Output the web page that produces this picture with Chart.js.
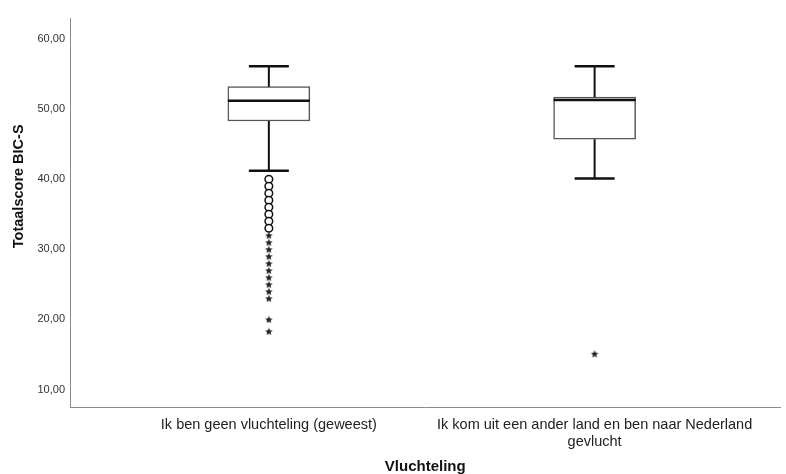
<!DOCTYPE html>
<html>
<head>
<meta charset="utf-8">
<script src="https://cdn.jsdelivr.net/npm/chart.js@4"></script>
<style>
  html, body { margin: 0; padding: 0; background: #fff; }
  #wrap { width: 786px; height: 474px; }
</style>
</head>
<body>
<div id="wrap"><canvas id="boxChart" width="786" height="474"></canvas></div>
<script>
// groups on the x axis
const groups = [
    'Ik ben geen vluchteling (geweest)',
    ['Ik kom uit een ander land en ben naar Nederland', 'gevlucht']
];
// box statistics per group
const whiskerLow = [41.2, 40.1];
const q1 = [48.3, 45.7];
const median = [51.2, 51.3];
const q3 = [53.2, 51.7];
const whiskerHigh = [56.1, 56.1];
// outliers (circles) and extremes (stars)
const outliersGroup1 = [40, 39, 38, 37, 36, 35, 34, 33];
const extremesGroup1 = [32, 31, 30, 29, 28, 27, 26, 25, 24, 23, 20, 18.3];
const extremesGroup2 = [15.1];
const yTicks = [10, 20, 30, 40, 50, 60];

// small five-point star used as marker for extremes
const makeStar = (size) => {
    const c = document.createElement('canvas');
    c.width = size;
    c.height = size;
    const g = c.getContext('2d');
    const r = size / 2;
    g.fillStyle = '#222';
    g.beginPath();
    for (let k = 0; k < 10; k++) {
        const rad = k % 2 === 0 ? r : r * 0.45;
        const a = -Math.PI / 2 + k * Math.PI / 5;
        g.lineTo(r + rad * Math.cos(a), r + 0.5 + rad * Math.sin(a));
    }
    g.closePath();
    g.fill();
    return c;
};
const starMarker = makeStar(8);

const boxPlugin = {
    id: 'boxWhiskers',
    afterDatasetsDraw(chart) {
        const ctx = chart.ctx;
        const x = chart.scales.x;
        const y = chart.scales.y;
        ctx.save();
        ctx.strokeStyle = '#111';
        groups.forEach((g, i) => {
            const cx = x.getPixelForValue(i);
            // whisker stems
            ctx.lineWidth = 2;
            ctx.beginPath();
            ctx.moveTo(cx, y.getPixelForValue(q3[i]));
            ctx.lineTo(cx, y.getPixelForValue(whiskerHigh[i]));
            ctx.moveTo(cx, y.getPixelForValue(q1[i]));
            ctx.lineTo(cx, y.getPixelForValue(whiskerLow[i]));
            ctx.stroke();
            // caps
            ctx.lineWidth = 2.5;
            ctx.beginPath();
            [whiskerHigh[i], whiskerLow[i]].forEach(v => {
                const py = y.getPixelForValue(v);
                ctx.moveTo(cx - 20, py);
                ctx.lineTo(cx + 20, py);
            });
            ctx.stroke();
            // median
            ctx.lineWidth = 2.5;
            ctx.beginPath();
            const my = y.getPixelForValue(median[i]);
            ctx.moveTo(cx - 41, my);
            ctx.lineTo(cx + 41, my);
            ctx.stroke();
        });
        ctx.restore();
    }
};

const ctx = document.getElementById('boxChart').getContext('2d');
new Chart(ctx, {
    type: 'bar',
    data: {
        datasets: [
            {
                type: 'scatter',
                data: outliersGroup1.map(v => ({ x: 0, y: v })),
                pointStyle: 'circle',
                pointRadius: 3.8,
                pointBorderWidth: 1.5,
                pointBorderColor: '#111',
                pointBackgroundColor: '#fff',
                order: 0
            },
            {
                type: 'scatter',
                data: extremesGroup1.map(v => ({ x: 0, y: v }))
                    .concat(extremesGroup2.map(v => ({ x: 1, y: v }))),
                pointStyle: starMarker,
                order: 0
            },
            {
                data: groups.map((g, i) => ({ x: i, y: [q1[i], q3[i]] })),
                backgroundColor: '#fff',
                borderColor: '#555',
                borderWidth: 1.5,
                borderSkipped: false,
                barThickness: 82,
                order: 1
            }
        ]
    },
    options: {
        responsive: false,
        animation: false,
        layout: { padding: { top: 18, right: 0, left: 0, bottom: 0 } },
        plugins: {
            legend: { display: false },
            tooltip: { enabled: false }
        },
        scales: {
            x: {
                type: 'linear',
                offset: false,
                min: -0.6104,
                max: 1.5706,
                afterBuildTicks: axis => { axis.ticks = groups.map((g, i) => ({ value: i })); },
                afterFit: axis => { axis.height = 67; },
                grid: { display: false, drawTicks: false },
                border: { color: '#8a8a8a', width: 1 },
                ticks: {
                    autoSkip: false,
                    maxRotation: 0,
                    padding: 9,
                    color: '#222',
                    font: { family: 'Liberation Sans, Arial', size: 14.5 },
                    callback: v => groups[v]
                },
                title: {
                    display: true,
                    text: 'Vluchteling',
                    color: '#111',
                    padding: { top: 0, bottom: -2 },
                    font: { family: 'Liberation Sans, Arial', size: 15, weight: 'bold' }
                }
            },
            y: {
                min: 7.5,
                max: 63,
                afterBuildTicks: axis => { axis.ticks = yTicks.map(v => ({ value: v })); },
                afterFit: axis => { axis.width = 70; },
                grid: { display: false, drawTicks: false },
                border: { color: '#8a8a8a', width: 1 },
                ticks: {
                    padding: 5,
                    color: '#333',
                    font: { family: 'Liberation Sans, Arial', size: 11 },
                    callback: v => v.toFixed(2).replace('.', ',')
                },
                title: {
                    display: true,
                    text: '             Totaalscore BIC-S',
                    color: '#111',
                    padding: { top: 10, bottom: 0 },
                    font: { family: 'Liberation Sans, Arial', size: 14.5, weight: 'bold' }
                }
            }
        }
    },
    plugins: [boxPlugin]
});
</script>
</body>
</html>
